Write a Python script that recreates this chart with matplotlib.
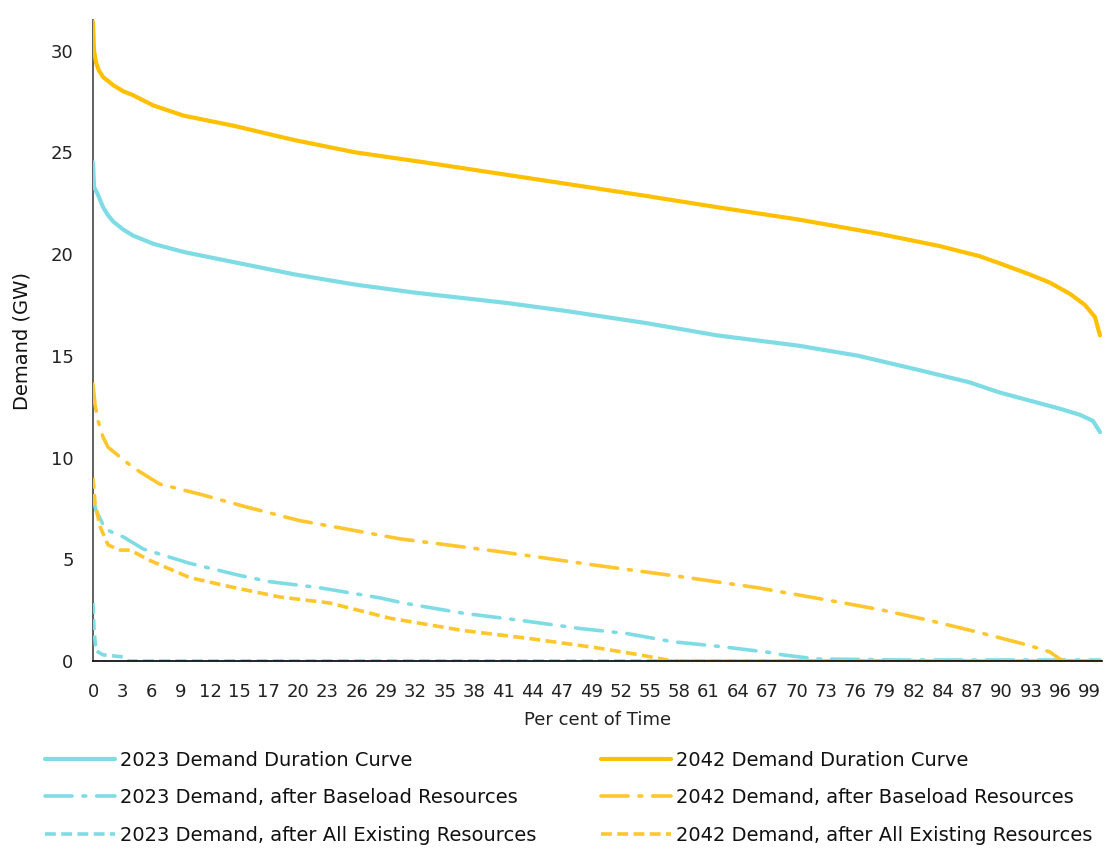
import numpy as np
import matplotlib
matplotlib.use('Agg')
import matplotlib.pyplot as plt

# data (x = per cent of time, y = GW)
x_2023_ddc = [0, 0.1, 0.5, 1, 1.5, 2, 3, 4, 6, 9, 12, 17, 20, 26, 32, 41, 47, 55, 62, 70, 76, 82, 87, 90, 93, 96, 98, 99.3, 100]
y_2023_ddc = [24.5, 23.3, 22.9, 22.3, 21.9, 21.6, 21.2, 20.9, 20.5, 20.1, 19.8, 19.3, 19.0, 18.5, 18.1, 17.6, 17.2, 16.6, 16.0, 15.5, 15.0, 14.3, 13.7, 13.2, 12.8, 12.4, 12.1, 11.8, 11.25]

x_2042_ddc = [0, 0.1, 0.3, 0.6, 1, 2, 3, 4, 6, 9, 14, 20, 26, 33, 41, 47, 55, 62, 70, 78, 84, 88, 90, 93, 95, 97, 98.5, 99.5, 100]
y_2042_ddc = [31.4, 30.0, 29.4, 29.0, 28.7, 28.3, 28.0, 27.8, 27.3, 26.8, 26.3, 25.6, 25.0, 24.5, 23.9, 23.45, 22.85, 22.3, 21.7, 21.0, 20.4, 19.9, 19.55, 19.0, 18.6, 18.05, 17.5, 16.9, 16.0]

x_2023_base = [0, 0.3, 0.8, 1.2, 2, 3, 5, 9.6, 14.6, 17.5, 22.5, 28.5, 30.8, 36.7, 42.4, 48.3, 53, 57.5, 62.5, 67.5, 68.5, 71.8, 80, 90, 100]
y_2023_base = [8.0, 7.4, 6.9, 6.5, 6.3, 6.1, 5.5, 4.8, 4.2, 3.9, 3.6, 3.1, 2.85, 2.35, 2.0, 1.6, 1.35, 0.95, 0.7, 0.4, 0.3, 0.1, 0.05, 0.05, 0.05]

x_2042_base = [0, 0.2, 0.5, 1, 1.5, 3, 4, 6.6, 10.6, 15, 20.5, 25, 30.5, 40, 50, 59, 66, 74, 78.4, 83, 88, 92.7, 95, 96, 96.5, 100]
y_2042_base = [13.6, 12.6, 11.8, 11.0, 10.5, 9.9, 9.5, 8.7, 8.2, 7.6, 6.9, 6.5, 6.0, 5.4, 4.7, 4.1, 3.6, 2.9, 2.5, 2.0, 1.4, 0.8, 0.45, 0.1, 0.0, 0.0]

x_2023_all = [0, 0.1, 0.3, 1, 2, 3, 3.5, 10, 50, 100]
y_2023_all = [2.85, 1.5, 0.5, 0.3, 0.25, 0.2, 0.0, 0.0, 0.0, 0.0]

x_2042_all = [0, 0.2, 0.7, 1.5, 2.7, 3.7, 5.6, 9.6, 13.6, 18.5, 23.5, 29.5, 36.7, 43.4, 50, 54.3, 57, 58, 80, 100]
y_2042_all = [9.0, 7.75, 6.6, 5.7, 5.45, 5.45, 4.95, 4.1, 3.65, 3.15, 2.85, 2.1, 1.5, 1.1, 0.65, 0.3, 0.05, 0.0, 0.0, 0.0]

x_tick_labels = ['0', '3', '6', '9', '12', '15', '17', '20', '23', '26', '29', '32', '35', '38', '41', '44', '47',
                 '49', '52', '55', '58', '61', '64', '67', '70', '73', '76', '79', '82', '84', '87', '90', '93', '96', '99']
y_ticks = [0, 5, 10, 15, 20, 25, 30]

cyan = '#7FDCE5'
gold = '#FFC000'
gold_light = '#FFC62E'

plt.rcParams['font.family'] = ['DejaVu Sans']
fig = plt.figure(figsize=(11.1, 8.52), dpi=100)
ax = fig.add_axes([0.0838, 0.2242, 0.909, 0.7523])

l1, = ax.plot(x_2023_ddc, y_2023_ddc, color=cyan, lw=3, solid_capstyle='round')
l2, = ax.plot(x_2023_base, y_2023_base, color=cyan, lw=2.6, dashes=(7.5, 3, 0.8, 3), dash_capstyle='round')
l3, = ax.plot(x_2023_all, y_2023_all, color=cyan, lw=2.6, dashes=(3, 1.5))
l4, = ax.plot(x_2042_ddc, y_2042_ddc, color=gold, lw=3, solid_capstyle='round')
l5, = ax.plot(x_2042_base, y_2042_base, color=gold_light, lw=2.6, dashes=(7.5, 3, 0.8, 3), dash_capstyle='round')
l6, = ax.plot(x_2042_all, y_2042_all, color=gold_light, lw=2.6, dashes=(3, 1.5))

ax.set_xlim(0, 100.2)
ax.set_ylim(0, 31.5)
tick_step = 255 / 8760 * 100
ax.set_xticks(np.arange(len(x_tick_labels)) * tick_step)
ax.set_xticklabels(x_tick_labels, fontsize=13, color='#222222')
ax.set_yticks(y_ticks)
ax.set_yticklabels([str(v) for v in y_ticks], fontsize=13, color='#222222')
ax.tick_params(axis='x', length=0, pad=16)
ax.tick_params(axis='y', length=0, pad=14)

for s in ['top', 'right']:
    ax.spines[s].set_visible(False)
ax.spines['left'].set_color('#444444')
ax.spines['bottom'].set_color('#000000')
ax.spines['left'].set_linewidth(1.2)
ax.spines['bottom'].set_linewidth(1.2)
ax.spines['left'].set_zorder(0)

ax.set_xlabel('Per cent of Time', fontsize=13, color='#222222', labelpad=7)
ax.set_ylabel('Demand (GW)', fontsize=14, color='#111111', labelpad=14)

labels = ['2023 Demand Duration Curve', '2023 Demand, after Baseload Resources',
          '2023 Demand, after All Existing Resources', '2042 Demand Duration Curve',
          '2042 Demand, after Baseload Resources', '2042 Demand, after All Existing Resources']
fig.legend([l1, l2, l3, l4, l5, l6], labels, ncol=2, loc='lower left', bbox_to_anchor=(0.025, -0.012),
           frameon=False, fontsize=14, handlelength=3.6, handletextpad=0.25, columnspacing=3.3,
           labelspacing=0.95, labelcolor='#111111')

fig.savefig('out.png', dpi=100)
